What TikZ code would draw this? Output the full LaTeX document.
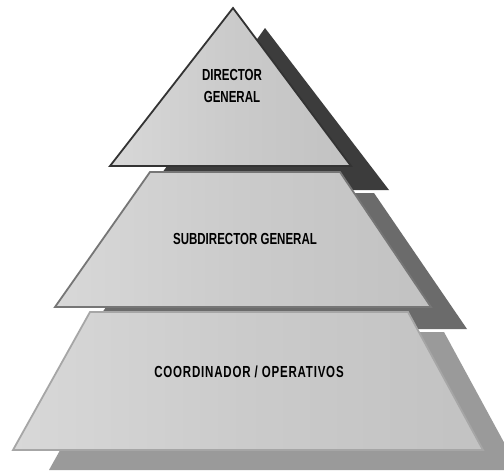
\documentclass[tikz,border=0pt]{standalone}
\usepackage{fontspec}
\newfontfamily\lblfont[FakeStretch=0.72]{Liberation Sans}
\definecolor{shA}{HTML}{3C3C3C}
\definecolor{shB}{HTML}{6B6B6B}
\definecolor{shC}{HTML}{9A9A9A}
\definecolor{lnA}{HTML}{333333}
\definecolor{lnB}{HTML}{767676}
\definecolor{lnC}{HTML}{A6A6A6}
\definecolor{fillL}{HTML}{D8D8D8}
\definecolor{fillR}{HTML}{C2C2C2}
\tikzset{
  level/.style={left color=fillL, right color=fillR, middle color=fillR!60!fillL, line width=1.8pt, line join=miter},
  lbl/.style={font=\lblfont\bfseries\fontsize{16}{22}\selectfont, text=black, align=center, inner sep=0pt}
}
\begin{document}
\begin{tikzpicture}[x=1pt,y=-1pt]
\clip (0,0) rectangle (504,471);
\fill[white] (0,0) rectangle (504,471);
% top level
\fill[shA] (265,28) -- (389,190) -- (150,190) -- cycle;
\draw[level, draw=lnA] (233,8) -- (351,166) -- (110,166) -- cycle;
% middle level
\fill[shB] ([shift={(34,21)}]150,172) -- ([shift={(34,21)}]340,172) -- ([shift={(36,22)}]431,307) -- ([shift={(36,22)}]55,307) -- cycle;
\draw[level, draw=lnB] (150,172) -- (340,172) -- (431,307) -- (55,307) -- cycle;
% bottom level
\fill[shC] ([shift={(36,20)}]90,312) -- ([shift={(36,20)}]408,312) -- ([shift={(36,20)}]483,450) -- ([shift={(36,20)}]13,450) -- cycle;
\draw[level, draw=lnC] (90,312) -- (408,312) -- (483,450) -- (13,450) -- cycle;
% labels
\node[lbl] (dir) at (232,86) {DIRECTOR\\GENERAL};
\node[lbl] (sub) at (245,239) {SUBDIRECTOR GENERAL};
\node[lbl] (coo) at (249,372) {\addfontfeature{LetterSpace=5}COORDINADOR / OPERATIVOS};
\end{tikzpicture}
\end{document}
